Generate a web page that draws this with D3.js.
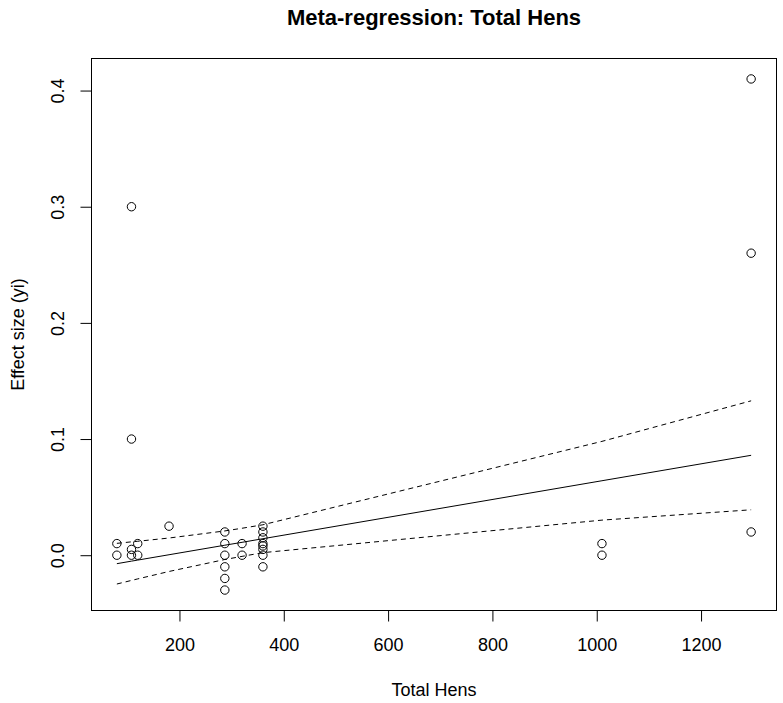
<!DOCTYPE html>
<html>
<head>
<meta charset="utf-8">
<script src="https://cdn.jsdelivr.net/npm/d3@7"></script>
<style>
  body { margin: 0; background: #fff; }
  svg { display: block; font-family: 'Liberation Sans', Arial, sans-serif; }
</style>
</head>
<body>
<svg width="783" height="703"></svg>
<script>
// observed studies
const hens = [
  80, 80,
  108, 108, 108, 108,
  120, 120,
  180,
  287, 287, 287, 287, 287, 287,
  320, 320,
  360, 360, 360, 360, 360, 360, 360, 360,
  1010, 1010,
  1296, 1296, 1296
];
const effect = [
  0.01, 0.0,
  0.3, 0.1, 0.005, 0.0,
  0.01, 0.0,
  0.025,
  0.02, 0.01, 0.0, -0.01, -0.02, -0.03,
  0.01, 0.0,
  0.025, 0.02, 0.015, 0.01, 0.008, 0.005, 0.0, -0.01,
  0.01, 0.0,
  0.41, 0.26, 0.02
];

// fitted line and confidence band (read at the study values)
const fitHens = [80, 108, 120, 180, 287, 320, 360, 1010, 1296];
const fitPred = [-0.0073, -0.0051, -0.0042, 0.0004, 0.0086, 0.0111, 0.0142, 0.0641, 0.0860];
const ciUpper = [0.0102, 0.0115, 0.0120, 0.0148, 0.0209, 0.0232, 0.0262, 0.0980, 0.1329];
const ciLower = [-0.0248, -0.0217, -0.0204, -0.0140, -0.0037, -0.0010, 0.0022, 0.0302, 0.0391];

const xTicks = [200, 400, 600, 800, 1000, 1200];
const yTicks = [0.0, 0.1, 0.2, 0.3, 0.4];

const svg = d3.select('svg');
const BOX = { LEFT: 91.5, RIGHT: 776.5, TOP: 58.5, BOTTOM: 610.5 };

// R-style 4% padding around the data range
function padded(ext) {
  const p = (ext[1] - ext[0]) * 0.04;
  return [ext[0] - p, ext[1] + p];
}

const x = d3.scaleLinear().domain(padded(d3.extent(hens))).range([BOX.LEFT, BOX.RIGHT]);
const y = d3.scaleLinear().domain(padded(d3.extent(effect))).range([BOX.BOTTOM, BOX.TOP]);

// title
svg.append('text')
  .attr('x', (BOX.LEFT + BOX.RIGHT) / 2)
  .attr('y', 25)
  .attr('text-anchor', 'middle')
  .style('font-size', '22px')
  .style('font-weight', 'bold')
  .text('Meta-regression: Total Hens');

// fitted lines
const line = d3.line()
  .x((d, i) => x(fitHens[i]))
  .y(d => y(d));

svg.append('path')
  .attr('d', line(fitPred))
  .attr('fill', 'none')
  .attr('stroke', '#000')
  .attr('stroke-width', 1);

[ciUpper, ciLower].forEach(arr => {
  svg.append('path')
    .attr('d', line(arr))
    .attr('fill', 'none')
    .attr('stroke', '#000')
    .attr('stroke-width', 1)
    .attr('stroke-dasharray', '5,4');
});

// points
svg.append('g')
  .selectAll('circle')
  .data(hens)
  .enter()
  .append('circle')
  .attr('cx', d => x(d))
  .attr('cy', (d, i) => y(effect[i]))
  .attr('r', 4.2)
  .attr('fill', 'none')
  .attr('stroke', '#000')
  .attr('stroke-width', 1);

// axes
const xAxis = svg.append('g')
  .attr('transform', `translate(0,${BOX.BOTTOM})`)
  .call(d3.axisBottom(x).tickValues(xTicks).tickSize(11).tickPadding(29).tickFormat(d3.format('d')));
xAxis.select('.domain').remove();
xAxis.selectAll('text').style('font-size', '18px').attr('fill', '#000').attr('dy', 0);

const yAxis = svg.append('g')
  .attr('transform', `translate(${BOX.LEFT},0)`)
  .call(d3.axisLeft(y).tickValues(yTicks).tickSize(11).tickFormat(d3.format('.1f')));
yAxis.select('.domain').remove();
yAxis.selectAll('text')
  .style('font-size', '18px')
  .attr('fill', '#000')
  .attr('text-anchor', 'middle')
  .attr('x', 0)
  .attr('dy', 0)
  .attr('transform', 'translate(-28,0) rotate(-90)');

svg.selectAll('.tick line').attr('stroke', '#000');

// box
svg.append('rect')
  .attr('x', BOX.LEFT)
  .attr('y', BOX.TOP)
  .attr('width', BOX.RIGHT - BOX.LEFT)
  .attr('height', BOX.BOTTOM - BOX.TOP)
  .attr('fill', 'none')
  .attr('stroke', '#000')
  .attr('stroke-width', 1);

// axis titles
svg.append('text')
  .attr('x', (BOX.LEFT + BOX.RIGHT) / 2)
  .attr('y', 696)
  .attr('text-anchor', 'middle')
  .style('font-size', '18px')
  .text('Total Hens');

svg.append('text')
  .attr('transform', `translate(24,${(BOX.TOP + BOX.BOTTOM) / 2}) rotate(-90)`)
  .attr('text-anchor', 'middle')
  .style('font-size', '18px')
  .text('Effect size (yi)');
</script>
</body>
</html>
